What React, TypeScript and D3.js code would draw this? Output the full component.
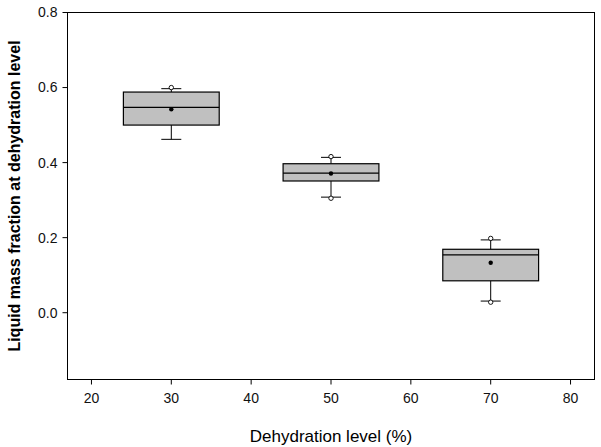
import React from "react";
import * as d3 from "d3";

const categories = [30, 50, 70];
const q1 = [0.5, 0.351, 0.085];
const medians = [0.547, 0.372, 0.154];
const q3 = [0.588, 0.397, 0.169];
const whiskerLow = [0.462, 0.308, 0.031];
const whiskerHigh = [0.597, 0.414, 0.194];
const means = [0.542, 0.371, 0.133];
const outliers = [[0.6], [0.416, 0.305], [0.198, 0.028]];
const xTicks = [20, 30, 40, 50, 60, 70, 80];
const yTicks = [0.0, 0.2, 0.4, 0.6, 0.8];

const W = 601;
const H = 447;
const L = 67.5;
const R = 594.5;
const T = 12.5;
const B = 379.5;

export default function App() {
  const x = d3.scaleLinear().domain([17, 83]).range([L, R]);
  const y = d3.scaleLinear().domain([-0.178, 0.8]).range([B, T]);
  const halfBox = 6;
  const capHalf = 10;
  const font = "'Liberation Sans', Arial, sans-serif";

  return (
    <svg
      width={W}
      height={H}
      style={{ position: "absolute", left: 0, top: 0, background: "#fff" }}
    >
      <rect x={0} y={0} width={W} height={H} fill="#fff" />
      {categories.map((c, i) => {
        const cx = x(c);
        return (
          <g key={c}>
            <line x1={cx} x2={cx} y1={y(q3[i])} y2={y(whiskerHigh[i])} stroke="#000" strokeWidth={1} />
            <line x1={cx} x2={cx} y1={y(q1[i])} y2={y(whiskerLow[i])} stroke="#000" strokeWidth={1} />
            <line x1={cx - capHalf} x2={cx + capHalf} y1={y(whiskerHigh[i])} y2={y(whiskerHigh[i])} stroke="#000" strokeWidth={1} />
            <line x1={cx - capHalf} x2={cx + capHalf} y1={y(whiskerLow[i])} y2={y(whiskerLow[i])} stroke="#000" strokeWidth={1} />
            <rect
              x={x(c - halfBox)}
              y={y(q3[i])}
              width={x(c + halfBox) - x(c - halfBox)}
              height={y(q1[i]) - y(q3[i])}
              fill="#c0c0c0"
              stroke="#000"
              strokeWidth={1.2}
            />
            <line x1={x(c - halfBox)} x2={x(c + halfBox)} y1={y(medians[i])} y2={y(medians[i])} stroke="#000" strokeWidth={1.2} />
            <circle cx={cx} cy={y(means[i])} r={2.2} fill="#000" />
            {outliers[i].map((o, j) => (
              <circle key={j} cx={cx} cy={y(o)} r={2.2} fill="#fff" stroke="#000" strokeWidth={0.9} />
            ))}
          </g>
        );
      })}
      <rect x={L} y={T} width={R - L} height={B - T} fill="none" stroke="#000" strokeWidth={1} />
      {yTicks.map((t) => (
        <g key={t}>
          <line x1={L - 5} x2={L} y1={y(t)} y2={y(t)} stroke="#000" strokeWidth={1} />
          <text x={L - 10} y={y(t)} dy="0.35em" textAnchor="end" fontFamily={font} fontSize={14} fill="#111">
            {t.toFixed(1)}
          </text>
        </g>
      ))}
      {xTicks.map((t) => (
        <g key={t}>
          <line x1={x(t)} x2={x(t)} y1={B} y2={B + 5} stroke="#000" strokeWidth={1} />
          <text x={x(t)} y={403} textAnchor="middle" fontFamily={font} fontSize={14} fill="#111">
            {t}
          </text>
        </g>
      ))}
      <text x={(L + R) / 2} y={442} textAnchor="middle" fontFamily={font} fontSize={17} fill="#000">
        Dehydration level (%)
      </text>
      <text
        transform={`translate(20, ${(T + B) / 2}) rotate(-90)`}
        textAnchor="middle"
        fontFamily={font}
        fontSize={16}
        fontWeight="bold"
        fill="#000"
      >
        Liquid mass fraction at dehydration level
      </text>
    </svg>
  );
}
